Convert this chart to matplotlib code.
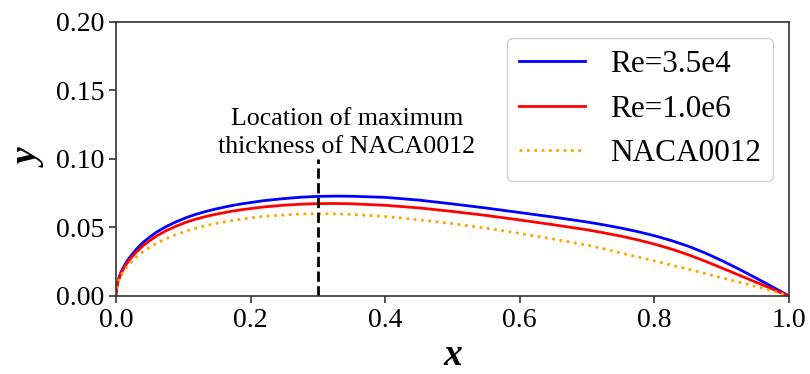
import numpy as np
import matplotlib
matplotlib.use("Agg")
import matplotlib.pyplot as plt

# chord positions
x_pts = [0.0, 0.001, 0.0025, 0.005, 0.0075, 0.01, 0.015, 0.02, 0.03, 0.04, 0.05, 0.06,
         0.075, 0.09, 0.105, 0.12, 0.135, 0.15, 0.17, 0.19, 0.22, 0.25, 0.275, 0.30,
         0.325, 0.35, 0.40, 0.45, 0.50, 0.55, 0.60, 0.65, 0.70, 0.725, 0.75, 0.775, 0.80, 0.825,
         0.85, 0.875, 0.90, 0.925, 0.95, 0.97, 0.985, 1.0]

# upper surface, Re = 3.5e4
y_re35e4 = [0.0, 0.0062, 0.0100, 0.0142, 0.0174, 0.0200, 0.0243, 0.0280, 0.0340, 0.0390, 0.0430, 0.0465,
            0.0508, 0.0543, 0.0573, 0.0598, 0.0619, 0.0637, 0.0658, 0.0675, 0.0696, 0.0711, 0.0721, 0.0727,
            0.0729, 0.0728, 0.0720, 0.0700, 0.0672, 0.0642, 0.0609, 0.0576, 0.0540, 0.0519, 0.0496, 0.0470, 0.0440, 0.0405,
            0.0364, 0.0315, 0.0259, 0.0198, 0.0134, 0.0081, 0.0041, 0.0]
# upper surface, Re = 1.0e6
y_re1e6 = [0.0, 0.0059, 0.0094, 0.0134, 0.0164, 0.0189, 0.0230, 0.0264, 0.0320, 0.0366, 0.0404, 0.0437,
           0.0478, 0.0511, 0.0540, 0.0563, 0.0582, 0.0598, 0.0617, 0.0632, 0.0650, 0.0663, 0.0670, 0.0674,
           0.0675, 0.0673, 0.0662, 0.0643, 0.0617, 0.0588, 0.0555, 0.0520, 0.0483, 0.0461, 0.0437, 0.0410, 0.0379, 0.0343,
           0.0302, 0.0255, 0.0205, 0.0154, 0.0103, 0.0062, 0.0031, 0.0]
# baseline NACA0012
y_naca = [0.0, 0.0055, 0.0087, 0.0122, 0.0148, 0.0170, 0.0205, 0.0235, 0.0283, 0.0322, 0.0355, 0.0384,
          0.0420, 0.0450, 0.0475, 0.0497, 0.0515, 0.0531, 0.0549, 0.0564, 0.0581, 0.0592, 0.0598, 0.0600,
          0.0599, 0.0596, 0.0580, 0.0556, 0.0528, 0.0495, 0.0457, 0.0415, 0.0372, 0.0344, 0.0314, 0.0286, 0.0256, 0.0226,
          0.0196, 0.0165, 0.0133, 0.0102, 0.0070, 0.0044, 0.0023, 0.0]

x_max_thick = 0.3
y_marker_top = 0.10

plt.rcParams['font.family'] = ['Liberation Serif', 'DejaVu Serif']

fig = plt.figure(figsize=(8.1, 3.74), dpi=100)
ax = fig.add_axes([0.1432, 0.2086, 0.8308, 0.7326])

ax.plot(x_pts, y_re35e4, color='blue', lw=2, label='Re=3.5e4')
ax.plot(x_pts, y_re1e6, color='red', lw=2, label='Re=1.0e6')
ax.plot(x_pts, y_naca, color='orange', lw=2, ls=':', label='NACA0012')
ax.plot([x_max_thick, x_max_thick], [0, y_marker_top], color='black', lw=2, ls='--')

ax.text(0.343, 0.1046, 'Location of maximum\nthickness of NACA0012',
        ha='center', va='baseline', fontsize=18.7, linespacing=1.35)

ax.set_xlim(0, 1)
ax.set_ylim(0, 0.2)
ax.set_xticks([0.0, 0.2, 0.4, 0.6, 0.8, 1.0])
ax.set_yticks([0.00, 0.05, 0.10, 0.15, 0.20])
ax.set_xticklabels(['0.0', '0.2', '0.4', '0.6', '0.8', '1.0'])
ax.set_yticklabels(['0.00', '0.05', '0.10', '0.15', '0.20'])
ax.tick_params(labelsize=20, length=5, width=1.2, color='#333333')
for sp in ax.spines.values():
    sp.set_linewidth(1.2)
    sp.set_color('#333333')

ax.set_xlabel('x', fontsize=27, fontweight='bold', fontstyle='italic', labelpad=4)
ax.set_ylabel('y', fontsize=27, fontweight='bold', fontstyle='italic', labelpad=6)

ax.legend(loc='upper right', fontsize=22.5, handlelength=2.1, handletextpad=0.8,
          labelspacing=0.5, borderaxespad=0.5, framealpha=1, edgecolor='#d0d0d0')

fig.savefig('out.png', dpi=100)
